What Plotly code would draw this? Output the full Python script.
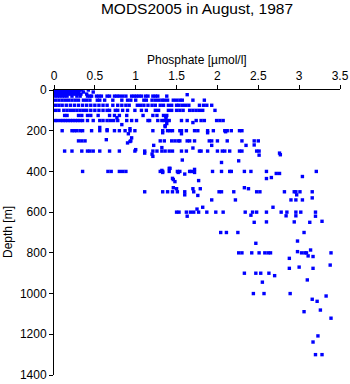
import plotly.graph_objects as go

# Phosphate [umol/l] observed at the standard sampling depths [m]
p_0 = [0.00, 0.02, 0.04, 0.06, 0.08, 0.10, 0.12, 0.14, 0.16, 0.18, 0.20, 0.22, 0.25, 0.28, 0.31, 0.34, 0.42]
p_10 = [0.00, 0.03, 0.05, 0.07, 0.09, 0.11, 0.13, 0.15, 0.17, 0.19, 0.21, 0.24, 0.27, 0.30, 0.36, 0.48]
p_20 = [0.01, 0.03, 0.05, 0.08, 0.10, 0.12, 0.15, 0.18, 0.21, 0.24, 0.27, 0.30, 0.33, 0.40]
p_30 = [0.01, 0.04, 0.07, 0.10, 0.13, 0.16, 0.22, 0.28, 0.32, 0.41, 0.44, 0.46, 0.52, 0.55, 0.58,
        0.65, 0.68, 0.74, 0.77, 0.80, 0.84, 0.88, 0.95, 0.98, 1.01, 1.04, 1.07, 1.12, 1.15, 1.21,
        1.24, 1.27, 1.38]
p_50 = [0.02, 0.06, 0.10, 0.14, 0.18, 0.22, 0.26, 0.30, 0.36, 0.40, 0.44, 0.53, 0.56, 0.62, 0.72,
        0.83, 0.90, 0.94, 1.00, 1.10, 1.13, 1.20, 1.24, 1.28, 1.32, 1.35, 1.39, 1.46, 1.50, 1.54,
        1.57, 1.70, 1.84]
p_75 = [0.02, 0.06, 0.10, 0.15, 0.20, 0.25, 0.30, 0.35, 0.40, 0.45, 0.50, 0.55, 0.60, 0.65, 0.72,
        0.78, 0.83, 0.88, 0.92, 1.02, 1.06, 1.10, 1.15, 1.20, 1.24, 1.30, 1.34, 1.40, 1.44, 1.50,
        1.53, 1.57, 1.61, 1.65, 1.78, 1.83, 1.87, 1.93]
p_100 = [0.02, 0.06, 0.12, 0.16, 0.20, 0.24, 0.28, 0.32, 0.36, 0.40, 0.45, 0.50, 0.55, 0.60, 0.65,
         0.68, 0.75, 0.78, 0.84, 0.90, 0.99, 1.07, 1.13, 1.24, 1.28, 1.40, 1.44, 1.50, 1.54, 1.58,
         1.66, 1.70, 1.74, 1.78, 1.82, 1.97]
p_125 = [0.13, 0.16, 0.30, 0.34, 0.41, 0.45, 0.54, 0.68, 0.74, 0.80, 0.89, 1.09, 1.21, 1.26, 1.34, 1.38]
p_150 = [0.01, 0.04, 0.08, 0.11, 0.14, 0.17, 0.20, 0.23, 0.26, 0.29, 0.32, 0.35, 0.41, 0.48, 0.56,
         0.60, 0.65, 0.69, 0.73, 0.78, 0.89, 0.95, 1.01, 1.15, 1.17, 1.27, 1.32, 1.35, 1.38, 1.41,
         1.56, 1.63, 1.74, 1.80, 1.84, 1.99, 2.03, 2.07]
p_200 = [0.10, 0.22, 0.25, 0.28, 0.32, 0.35, 0.46, 0.56, 0.65, 0.74, 0.80, 0.87, 0.93, 0.99, 1.21,
         1.33, 1.39, 1.42, 1.45, 1.54, 1.56, 1.62, 1.72, 1.76, 1.88, 1.95, 2.09, 2.12, 2.17, 2.27, 2.30]
p_250 = [0.30, 0.34, 0.38, 0.94, 1.30, 1.35, 1.44, 1.48, 1.52, 1.54, 1.63, 1.66, 1.72, 1.90, 1.93,
         2.00, 2.12, 2.30, 2.45, 2.50]
p_300 = [0.13, 0.22, 0.34, 0.41, 0.44, 0.48, 0.56, 0.68, 0.80, 0.99, 1.11, 1.21, 1.26, 1.32, 1.36,
         1.41, 1.45, 1.56, 1.62, 1.78, 1.80, 1.88, 2.00, 2.06, 2.09, 2.15, 2.27, 2.30, 2.48, 2.51]
p_400 = [0.35, 0.66, 0.70, 0.80, 0.84, 0.88, 1.30, 1.33, 1.41, 1.51, 1.54, 1.66, 1.68, 1.94, 2.05,
         2.15, 2.17, 2.33, 2.41, 2.60, 3.21]
p_500 = [1.11, 1.33, 1.39, 1.45, 1.51, 1.60, 1.71, 2.02, 2.05, 2.20, 2.48, 2.52, 2.82, 2.94, 2.96,
         3.01, 3.16]
p_600 = [1.50, 1.53, 1.62, 1.67, 1.71, 1.77, 1.87, 1.98, 2.07, 2.34, 2.43, 2.48, 2.60, 2.78, 2.85,
         2.96, 3.02, 3.20]
p_700 = [2.04, 2.11, 2.25, 3.06]
p_800 = [2.26, 2.30, 2.42, 2.51, 2.58, 2.62, 2.65, 3.03, 3.07, 3.09, 3.39]
p_900 = [2.33, 2.47, 2.53, 2.63]
p_1000 = [2.44, 2.57, 2.89]
p_1300 = [3.20, 3.28]

standard_depths = [0, 10, 20, 30, 50, 75, 100, 125, 150, 200, 250, 300, 400, 500, 600, 700, 800,
                   900, 1000, 1300]
standard_values = [p_0, p_10, p_20, p_30, p_50, p_75, p_100, p_125, p_150, p_200, p_250, p_300,
                   p_400, p_500, p_600, p_700, p_800, p_900, p_1000, p_1300]

# Casts sampled at non-standard depths
extra_depth = [23, 130, 136, 140, 160, 165, 170, 175, 180, 184, 190, 195, 205, 210, 210, 215, 215,
               235, 244, 253, 260, 270, 272, 272, 272, 283, 285, 293, 310, 310, 315, 318, 320, 326,
               344, 348, 356, 385, 385, 390, 395, 405, 405, 405, 410, 410, 413, 425, 430, 434, 435,
               440, 445, 450, 480, 485, 485, 485, 480, 485, 515, 518, 515, 530, 540, 540, 540, 540,
               540, 576, 576, 585, 620, 615, 618, 618, 620, 650, 648, 648, 650, 645, 753, 742, 827,
               794, 815, 786, 818, 912, 944, 933, 876, 870, 876, 860, 1028, 1038, 1012, 1081, 1089,
               1121, 1208, 1238]
extra_phos = [1.63, 1.37, 0.77, 1.37, 1.70, 1.38, 0.83, 1.36, 1.36, 0.56, 0.93, 0.65, 2.10, 1.33,
              1.88, 0.91, 1.56, 0.95, 0.64, 0.93, 0.90, 2.45, 1.22, 1.93, 2.35, 1.32, 1.70, 1.00,
              1.11, 2.76, 1.20, 2.77, 2.51, 1.21, 1.57, 2.26, 2.05, 1.42, 1.41, 1.72, 1.32, 1.33,
              1.52, 1.72, 2.72, 2.76, 1.60, 3.04, 2.66, 1.45, 2.60, 1.46, 1.77, 1.48, 1.46, 1.50,
              1.70, 1.79, 2.33, 2.38, 1.60, 1.76, 2.97, 3.16, 1.93, 2.22, 2.90, 2.96, 3.04, 1.82,
              2.68, 1.75, 1.63, 2.41, 2.84, 2.96, 3.20, 2.45, 2.60, 2.94, 3.13, 3.28, 2.47, 2.98,
              2.88, 2.98, 3.11, 3.14, 3.17, 2.70, 2.55, 3.10, 2.88, 3.00, 3.17, 3.38, 3.16, 3.22,
              3.33, 3.26, 3.06, 3.39, 3.23, 3.17]

x_ticks = [0, 0.5, 1, 1.5, 2, 2.5, 3, 3.5]
x_tick_text = ["0", "0.5", "1", "1.5", "2", "2.5", "3", "3.5"]
y_ticks = [0, 200, 400, 600, 800, 1000, 1200, 1400]

phos = []
depth = []
for d, vals in zip(standard_depths, standard_values):
    phos.extend(vals)
    depth.extend([d] * len(vals))
phos.extend(extra_phos)
depth.extend(extra_depth)

font_family = "Liberation Sans, Arial, Helvetica, sans-serif"

fig = go.Figure(
    go.Scatter(
        x=phos,
        y=depth,
        mode="markers",
        marker=dict(symbol="square", size=3.4, color="#0000ff", line=dict(width=0)),
        hoverinfo="x+y",
    )
)

axis_common = dict(
    showgrid=False,
    zeroline=False,
    showline=True,
    linecolor="black",
    linewidth=1,
    ticks="outside",
    ticklen=4,
    tickwidth=1,
    tickcolor="black",
    automargin=False,
    tickfont=dict(family=font_family, size=12, color="black"),
)

fig.update_layout(
    width=350,
    height=384,
    margin=dict(l=54, r=10, t=90, b=9, autoexpand=False),
    paper_bgcolor="white",
    plot_bgcolor="white",
    showlegend=False,
    font=dict(family=font_family, color="black"),
    title=dict(
        text="MODS2005 in August, 1987",
        x=0.5,
        xref="paper",
        y=1 - 9 / 384,
        yref="container",
        yanchor="middle",
        font=dict(family=font_family, size=15.5, color="black"),
    ),
    xaxis=dict(range=[0, 3.5], side="top", tickvals=x_ticks, ticktext=x_tick_text, **axis_common),
    yaxis=dict(range=[1400, 0], tickvals=y_ticks, **axis_common),
    annotations=[
        dict(
            text="Phosphate [µmol/l]",
            x=0.5, xref="paper",
            y=1 + 30 / 285, yref="paper",
            xanchor="center", yanchor="middle",
            showarrow=False,
            font=dict(family=font_family, size=12, color="black"),
        ),
        dict(
            text="Depth [m]",
            x=(7.5 - 54) / 286, xref="paper",
            y=0.5, yref="paper",
            xanchor="center", yanchor="middle",
            textangle=-90,
            showarrow=False,
            font=dict(family=font_family, size=12, color="black"),
        ),
    ],
)

fig.write_html("out.html")
